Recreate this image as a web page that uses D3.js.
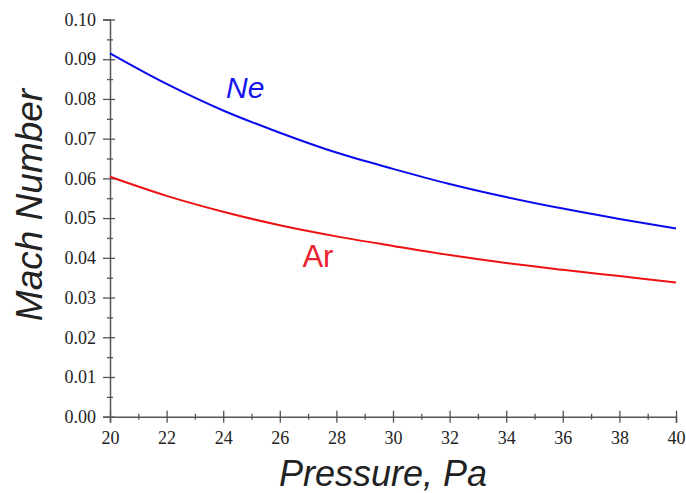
<!DOCTYPE html>
<html>
<head>
<meta charset="utf-8">
<script src="https://cdn.jsdelivr.net/npm/d3@7"></script>
<style>
  body { margin: 0; background: #fff; }
  svg { display: block; }
</style>
</head>
<body>
<svg id="chart"></svg>
<script>
// pressure, Pa
const pressure = [20, 22, 24, 26, 28, 30, 32, 34, 36, 38, 40];
// Mach number
const machNe = [0.0915, 0.0838, 0.0771, 0.0715, 0.0665, 0.0624, 0.0586, 0.0553, 0.0524, 0.0498, 0.0474];
const machAr = [0.0604, 0.0556, 0.0516, 0.0482, 0.0454, 0.0430, 0.0407, 0.0387, 0.0370, 0.0354, 0.0338];
const xTicks = [20, 22, 24, 26, 28, 30, 32, 34, 36, 38, 40];
const yTicks = [0, 0.01, 0.02, 0.03, 0.04, 0.05, 0.06, 0.07, 0.08, 0.09, 0.10];

const width = 686, height = 493;
const margin = { left: 110, right: 10, top: 19.5, bottom: 76.3 };

const svg = d3.select("#chart")
    .attr("width", width)
    .attr("height", height);

const x = d3.scaleLinear().domain([20, 40]).range([margin.left, width - margin.right]);
const y = d3.scaleLinear().domain([0, 0.10]).range([height - margin.bottom, margin.top]);

const axisColor = "#555";

// minor ticks first, then major
svg.append("g")
    .attr("transform", `translate(0,${y(0)})`)
    .call(d3.axisBottom(x).tickValues(d3.range(21, 40, 2)).tickSize(3).tickFormat(""))
    .call(g => g.select(".domain").remove())
    .call(g => g.selectAll("line").attr("y1", -3).attr("stroke", axisColor).attr("stroke-width", 1.3));

svg.append("g")
    .attr("transform", `translate(0,${y(0)})`)
    .call(d3.axisBottom(x).tickValues(xTicks).tickSize(6).tickPadding(9).tickFormat(d3.format("d")))
    .call(g => g.select(".domain").attr("stroke", axisColor).attr("stroke-width", 1.5))
    .call(g => g.selectAll("line").attr("y1", -6).attr("stroke", axisColor).attr("stroke-width", 1.3))
    .call(g => g.selectAll("text")
        .attr("font-family", "'Liberation Serif', 'Times New Roman', serif")
        .attr("font-size", 18).attr("fill", "#222"));

svg.append("g")
    .attr("transform", `translate(${x(20)},0)`)
    .call(d3.axisLeft(y).tickValues(d3.range(0.005, 0.1, 0.01)).tickSize(3).tickFormat(""))
    .call(g => g.select(".domain").remove())
    .call(g => g.selectAll("line").attr("x1", 3).attr("stroke", axisColor).attr("stroke-width", 1.3));

svg.append("g")
    .attr("transform", `translate(${x(20)},0)`)
    .call(d3.axisLeft(y).tickValues(yTicks).tickSize(7).tickPadding(7).tickFormat(d3.format(".2f")))
    .call(g => g.select(".domain").attr("stroke", axisColor).attr("stroke-width", 1.5))
    .call(g => g.selectAll("line").attr("x1", 5).attr("stroke", axisColor).attr("stroke-width", 1.3))
    .call(g => g.selectAll("text")
        .attr("font-family", "'Liberation Serif', 'Times New Roman', serif")
        .attr("font-size", 18).attr("fill", "#222"));

const line = d3.line()
    .x((d, i) => x(pressure[i]))
    .y(d => y(d))
    .curve(d3.curveMonotoneX);

svg.append("path").datum(machNe)
    .attr("d", line).attr("fill", "none")
    .attr("stroke", "#0a0aee").attr("stroke-width", 2);

svg.append("path").datum(machAr)
    .attr("d", line).attr("fill", "none")
    .attr("stroke", "#ee1111").attr("stroke-width", 2);

// curve labels
svg.append("text")
    .attr("x", x(24.1)).attr("y", 98)
    .attr("font-family", "'Liberation Sans', Arial, sans-serif")
    .attr("font-size", 30).attr("font-style", "italic")
    .attr("fill", "#1515ee")
    .text("Ne");

svg.append("text")
    .attr("x", x(26.8)).attr("y", 267)
    .attr("font-family", "'Liberation Sans', Arial, sans-serif")
    .attr("font-size", 31)
    .attr("fill", "#ea2230")
    .text("Ar");

// axis titles
svg.append("text")
    .attr("x", (x(20) + x(40)) / 2 - 10).attr("y", 486)
    .attr("text-anchor", "middle")
    .attr("font-family", "'Liberation Sans', Arial, sans-serif")
    .attr("font-size", 36).attr("font-style", "italic")
    .attr("fill", "#222")
    .text("Pressure, Pa");

svg.append("text")
    .attr("transform", `translate(42,205) rotate(-90)`)
    .attr("text-anchor", "middle")
    .attr("font-family", "'Liberation Sans', Arial, sans-serif")
    .attr("font-size", 37).attr("font-style", "italic")
    .attr("fill", "#222")
    .text("Mach Number");
</script>
</body>
</html>
